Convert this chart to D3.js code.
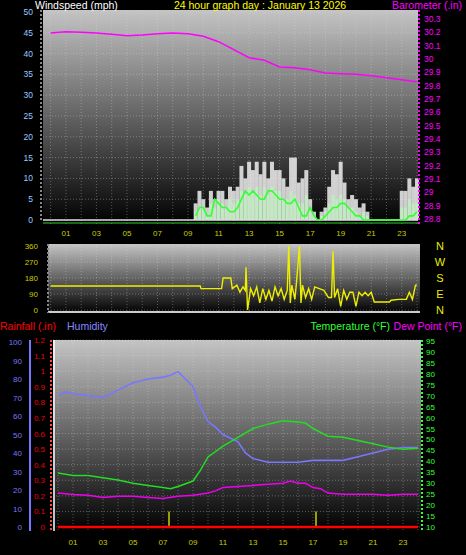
<!DOCTYPE html><html><head><script src="https://cdn.jsdelivr.net/npm/d3@7"></script>
<style>body{margin:0;background:#000}text{font-family:"Liberation Sans",Arial,sans-serif}</style></head><body>
<svg id="c" width="466" height="555"></svg>
<script>
const hourLabels=["01","03","05","07","09","11","13","15","17","19","21","23"];
const windTicks=[0,5,10,15,20,25,30,35,40,45,50];
const baroTicks=[28.8,28.9,29,29.1,29.2,29.3,29.4,29.5,29.6,29.7,29.8,29.9,30,30.1,30.2,30.3];
const baroH=[0,1,2,3,4,5,6,7,8,9,10,11,12,13,14,15,16,17,18,19,20,21,22,23,24];
const baroV=[30.195,30.205,30.2,30.195,30.185,30.175,30.18,30.19,30.195,30.19,30.17,30.13,30.07,30.01,29.99,29.94,29.935,29.92,29.895,29.89,29.885,29.875,29.86,29.845,29.83];
const windH=[9.5,9.75,10,10.25,10.5,10.75,11,11.25,11.5,11.75,12,12.25,12.5,12.75,13,13.25,13.5,13.75,14,14.25,14.5,14.75,15,15.25,15.5,15.75,16,16.25,16.5,16.75,17,17.25,17.5,17.75,18,18.25,18.5,18.75,19,19.25,19.5,19.75,20,20.25,20.5,20.75,21,21.5,22,22.5,23,23.25,23.5,23.75,24];
const gustV=[4,7,5,3,7,5,7,7,5,8,7,8,13,10,14,12,14,11,14,10,14,12,12,10,8,15,15,9,10,12,5,2,0,2,3,8,12,11,14,9,5,6,5,3,4,2,0,0,0,0,7,7,10,8,10];
const speedV=[2,3,3,1,4,3,5,4,3,5,4,5,7,6,8,7,8,6,8,6,8,7,7,5,5,7,6,4,4,6,2,1,0,1,2,4,6,5,6,5,3,3,2,1,2,1,0,0,0,0,3,3,5,4,4];
const avgV=[1,3,3,1,1,5,4,3,3,2,2,3,5,7,6,7,6,5,5,7,7,6,5,5,4,4,5,3,1,1,3,1,0,0,1,2,3,3,4,4,3,2,1,1,0,0,0,0,0,0,0,0,1,1,2];
const dirTicks=[0,90,180,270,360];
const dirLetters=["N","E","S","W","N"];
const dirH=[0,9.8,9.85,11.2,11.3,11.8,11.9,12.2,12.4,12.6,12.75,12.8,12.9,13.1,13.3,13.5,13.7,13.9,14.1,14.3,14.5,14.7,14.9,15.1,15.3,15.5,15.6,15.7,15.8,15.9,16,16.1,16.3,16.4,16.5,16.7,16.9,17.1,17.3,17.6,17.9,18.2,18.4,18.5,18.6,18.8,19,19.2,19.4,19.6,19.8,20,20.2,20.4,20.6,20.8,21,21.2,21.8,22.2,22.3,22.8,23.3,23.5,23.7,23.9,24];
const dirV=[135,135,120,120,180,180,120,140,100,130,110,240,0,120,80,130,40,120,60,110,50,130,80,120,60,110,360,40,140,100,60,150,360,40,140,70,120,60,130,120,110,70,70,330,70,120,20,110,60,100,100,20,100,80,100,80,100,45,45,45,55,60,60,100,60,140,140];
const rainTicks=[0,0.1,0.2,0.3,0.4,0.5,0.6,0.7,0.8,0.9,1,1.1,1.2];
const humTicks=[0,10,20,30,40,50,60,70,80,90,100];
const tempTicks=[10,15,20,25,30,35,40,45,50,55,60,65,70,75,80,85,90,95];
const humH=[0,0.5,1,2,3,4,5,6,7,7.5,8,8.5,9,9.5,10,10.5,11,12,12.5,13,14,15,16,17,18,19,20,21,22,23,24];
const humV=[71,73,72,71,70,74,78,80,81,82,84,80,76,65,57,54,50,46,40,37,35,35,35,36,36,36,38,40,42,43,43];
const tempH=[0,1,2,3,4,5,6,7,7.5,8,9,9.5,10,11,12,13,14,15,16,16.5,17,18,19,20,21,22,23,24];
const tempV=[34.7,33.5,33.5,32.5,31.5,30,29,28,27.5,28.5,31,36,42,47,51,55,57,58.5,58,57.5,55,51.5,51,49.5,48,46.5,45.5,46];
const dewH=[0,1,2,3,4,5,6,7,8,9,10,10.5,11,12,13,14,15,15.5,16,16.5,17,17.5,18,19,20,21,22,23,24];
const dewV=[25.5,24.8,24.5,23.5,24,24,23.5,23,24,24.5,25.5,26.5,28,28.5,29,29.5,30,31,30,30,28,27.5,25.5,25,25,25,24.5,25,25];
const rainH=[0,24];const rainV=[0,0];
const sunH=[7.4,17.2];

const svg=d3.select("#c");
const defs=svg.append("defs");
const g=defs.append("linearGradient").attr("id","bg").attr("x1",0).attr("x2",0).attr("y1",0).attr("y2",1);
g.append("stop").attr("offset","0%").attr("stop-color","#c4c4c4");
g.append("stop").attr("offset","100%").attr("stop-color","#000");

function panel(x0,x1,y0,y1,xs){
 svg.append("rect").attr("x",x0).attr("y",y0).attr("width",x1-x0).attr("height",y1-y0).attr("fill","url(#bg)");
 const gg=svg.append("g");
 d3.range(0,25).forEach(h=>{const x=xs(h);if(x>x0&&x<x1)gg.append("line").attr("x1",x).attr("x2",x).attr("y1",y0).attr("y2",y1).attr("stroke","#ddd").attr("stroke-opacity",0.35).attr("stroke-dasharray","1,2");});
 return gg;
}
function hgrid(gg,ys,ticks,x0,x1){ticks.forEach(t=>gg.append("line").attr("x1",x0).attr("x2",x1).attr("y1",ys(t)).attr("y2",ys(t)).attr("stroke","#ddd").attr("stroke-opacity",0.35).attr("stroke-dasharray","1,2"));}
function txt(x,y,s,c,size,anchor){return svg.append("text").attr("x",x).attr("y",y).attr("fill",c).attr("font-size",size).attr("text-anchor",anchor||"start").text(s);}

// ---- top panel
const x1=d3.scaleLinear().domain([-0.5,24]).range([43,417]);
const yW=d3.scaleLinear().domain([0,50]).range([220,12]);
const yB=d3.scaleLinear().domain([28.8,30.3]).range([219,19]);
const p1=panel(43,418,10,224,x1);
hgrid(p1,yW,windTicks,43,418);
txt(35,9,"Windspeed (mph)","#fff",10.5);
txt(260,9,"24 hour graph day : January 13 2026","#ff0",10.5,"middle");
txt(462,9,"Barometer (.in)","#f0f",10.5,"end");
const bw=4;
windH.forEach((h,i)=>{svg.append("rect").attr("x",x1(h)-bw/2).attr("width",bw).attr("y",yW(gustV[i])).attr("height",yW(0)-yW(gustV[i])).attr("fill","#eee").attr("opacity",0.85);});
windH.forEach((h,i)=>{svg.append("rect").attr("x",x1(h)-1.5).attr("width",3).attr("y",yW(speedV[i])).attr("height",yW(0)-yW(speedV[i])).attr("fill","#bfeebf").attr("opacity",0.9);});
svg.append("line").attr("x1",43).attr("x2",418).attr("y1",yW(0)).attr("y2",yW(0)).attr("stroke","#ddd").attr("stroke-width",1.5);
svg.append("line").attr("x1",43).attr("x2",418).attr("y1",yW(0)+3).attr("y2",yW(0)+3).attr("stroke","#3c3").attr("stroke-width",1);
svg.append("path").datum(windH.map((h,i)=>[h,avgV[i]])).attr("d",d3.line().x(d=>x1(d[0])).y(d=>yW(d[1]))).attr("fill","none").attr("stroke","#3f3").attr("stroke-width",1.6);
svg.append("path").datum(baroH.map((h,i)=>[h,baroV[i]])).attr("d",d3.line().x(d=>x1(d[0])).y(d=>yB(d[1]))).attr("fill","none").attr("stroke","#f0f").attr("stroke-width",1.5);
windTicks.forEach(t=>{txt(33,yW(t)+3,t,"#9cf",8.5,"end");});
svg.append("line").attr("x1",41).attr("x2",41).attr("y1",10).attr("y2",222).attr("stroke","#888").attr("stroke-dasharray","2,2").attr("stroke-width",2);
svg.append("line").attr("x1",419).attr("x2",419).attr("y1",10).attr("y2",224).attr("stroke","#f0f").attr("stroke-dasharray","2,2").attr("stroke-width",2);
baroTicks.forEach(t=>txt(424,yB(t)+3,t,"#f0f",8.5));
hourLabels.forEach(l=>txt(x1(+l),236,l,"#cc0",8,"middle"));
// ---- middle
const yD=d3.scaleLinear().domain([0,360]).range([310,246]);
const p2=panel(48,420,244,313,x1);
hgrid(p2,yD,dirTicks,48,420);
svg.append("path").datum(dirH.map((h,i)=>[h,dirV[i]])).attr("d",d3.line().x(d=>x1(d[0])).y(d=>yD(d[1]))).attr("fill","none").attr("stroke","#ee0").attr("stroke-width",1.4);
svg.append("line").attr("x1",48).attr("x2",420).attr("y1",312).attr("y2",312).attr("stroke","#ccc").attr("stroke-width",2);
svg.append("line").attr("x1",48).attr("x2",48).attr("y1",244).attr("y2",313).attr("stroke","#888").attr("stroke-dasharray","2,2").attr("stroke-width",2);
dirTicks.forEach(t=>txt(38,yD(t)+3,t,"#cc0",8,"end"));
dirLetters.forEach((l,i)=>txt(440,yD(dirTicks[i])+4,l,"#ee0",11,"middle"));
// ---- bottom
const x3=d3.scaleLinear().domain([0,24]).range([58,418]);
const yR=d3.scaleLinear().domain([0,1.2]).range([527,340]);
const yH=d3.scaleLinear().domain([0,100]).range([527,342]);
const yT=d3.scaleLinear().domain([10,95]).range([527,341]);
const p3=panel(53,421,340,531,x3);
hgrid(p3,yR,rainTicks,53,421);
txt(0,330,"Rainfall (.in)","#f00",10.5);
txt(67,330,"Humidity","#88f",10.5);
txt(390,330,"Temperature (°F)","#3f3",10.5,"end");
txt(462,330,"Dew Point (°F)","#f0f",10.5,"end");
sunH.forEach(h=>svg.append("line").attr("x1",x3(h)).attr("x2",x3(h)).attr("y1",yR(0)).attr("y2",yR(0.1)).attr("stroke","#cc0").attr("stroke-width",1.5));
const ln=(H,V,ys)=>d3.line().x((d,i)=>x3(H[i])).y((d,i)=>ys(V[i]))(V);
svg.append("path").attr("d",ln(humH,humV,yH)).attr("fill","none").attr("stroke","#77f").attr("stroke-width",1.6);
svg.append("path").attr("d",ln(tempH,tempV,yT)).attr("fill","none").attr("stroke","#2d2").attr("stroke-width",1.5);
svg.append("path").attr("d",ln(dewH,dewV,yT)).attr("fill","none").attr("stroke","#e0e").attr("stroke-width",1.5);
svg.append("path").attr("d",ln(rainH,rainV,yR)).attr("fill","none").attr("stroke","#f00").attr("stroke-width",2.5);
svg.append("line").attr("x1",54).attr("x2",54).attr("y1",340).attr("y2",531).attr("stroke","#fff").attr("stroke-width",1.5);
svg.append("line").attr("x1",51).attr("x2",51).attr("y1",340).attr("y2",531).attr("stroke","#f44").attr("stroke-dasharray","2,2").attr("stroke-width",2);
svg.append("line").attr("x1",30).attr("x2",30).attr("y1",340).attr("y2",531).attr("stroke","#77f").attr("stroke-width",2);
svg.append("line").attr("x1",422).attr("x2",422).attr("y1",340).attr("y2",531).attr("stroke","#3f3").attr("stroke-dasharray","2,2").attr("stroke-width",2);
humTicks.forEach(t=>txt(22,yH(t)+3,t,"#77f",8,"end"));
rainTicks.forEach(t=>txt(45,yR(t)+3,t,"#e00",8,"end"));
tempTicks.forEach(t=>txt(426,yT(t)+3,t,"#3f3",8));
hourLabels.forEach(l=>txt(x3(+l),545,l,"#cc0",8,"middle"));
</script></body></html>
